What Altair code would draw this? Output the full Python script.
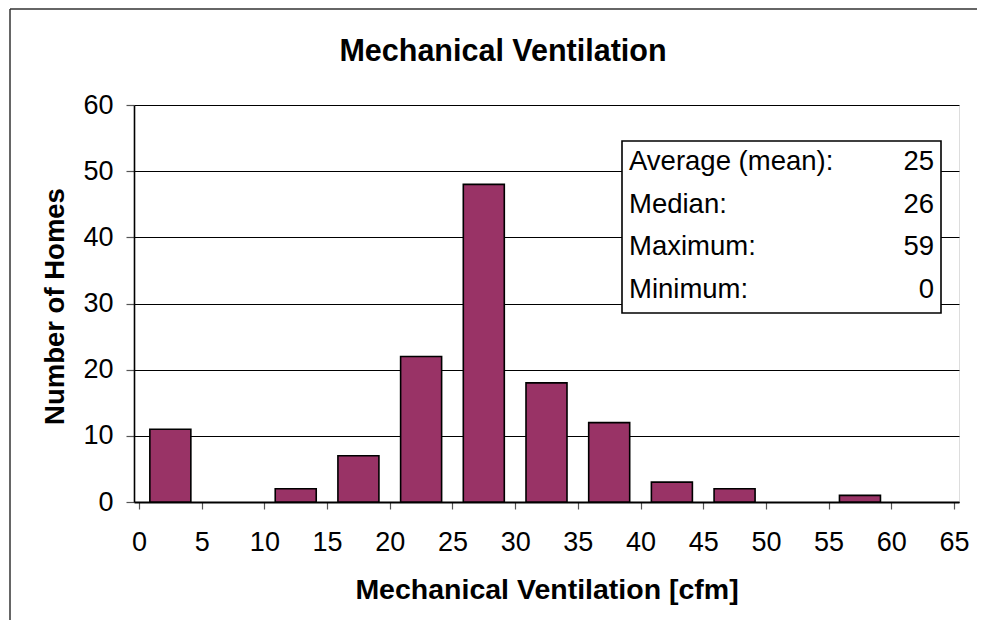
import altair as alt
import pandas as pd

# ---- data ----
chart_title = "Mechanical Ventilation"
bin_starts = [0, 5, 10, 15, 20, 25, 30, 35, 40, 45, 50, 55, 60]
counts = [11, 0, 2, 7, 22, 48, 18, 12, 3, 2, 0, 1, 0]
stat_labels = ["Average (mean):", "Median:", "Maximum:", "Minimum:"]
stat_values = ["25", "26", "59", "0"]
x_ticks = list(range(0, 70, 5))
y_ticks = list(range(0, 70, 10))

FONT = "Liberation Sans"
W, H = 825, 397

bars_df = pd.DataFrame({"start": bin_starts, "count": counts})
bars_df["mid"] = bars_df["start"] + 2.5
stats_df = pd.DataFrame({"label": stat_labels, "value": stat_values,
                         "row": list(range(len(stat_labels)))})
title_df = pd.DataFrame({"t": [chart_title]})
one = pd.DataFrame({"k": [0]})

x_scale = alt.Scale(domain=[0, 65], nice=False, zero=False)
y_scale = alt.Scale(domain=[0, 60], nice=False)

bars = alt.Chart(bars_df).transform_filter("datum.count > 0").mark_bar(
    size=41, color="#993366", stroke="#000000", strokeWidth=1.6
).encode(
    x=alt.X("mid:Q", scale=x_scale,
            axis=alt.Axis(values=x_ticks, title="Mechanical Ventilation [cfm]",
                          grid=False, domainColor="#000", domainWidth=2,
                          tickColor="#555", tickSize=7, tickWidth=1.2,
                          labelFont=FONT, labelFontSize=27, labelColor="#000",
                          labelPadding=20, labelFlush=False, labelOverlap=False,
                          titleFont=FONT, titleFontSize=28.5, titleFontWeight="bold",
                          titleColor="#000", titleBaseline="alphabetic", titleY=96)),
    y=alt.Y("count:Q", scale=y_scale,
            axis=alt.Axis(values=y_ticks, title="Number of Homes",
                          grid=True, gridColor="#000", gridWidth=1,
                          domainColor="#000", domainWidth=1.6,
                          tickColor="#555", tickSize=8, tickWidth=1.2,
                          labelFont=FONT, labelFontSize=27, labelColor="#000",
                          labelPadding=13,
                          titleFont=FONT, titleFontSize=27.5, titleFontWeight="bold",
                          titleColor="#000", titleBaseline="alphabetic",
                          titleX=-71, titleY=201, titleAngle=270)),
)

box = alt.Chart(one).mark_rect(
    fill="white", stroke="#000", strokeWidth=1.6
).encode(x=alt.value(488), x2=alt.value(807), y=alt.value(36), y2=alt.value(208))

labels = alt.Chart(stats_df).transform_calculate(
    py="65 + 42.6 * datum.row"
).mark_text(
    align="left", baseline="alphabetic", font=FONT, fontSize=27.5, color="#000"
).encode(x=alt.value(495), y=alt.Y("py:Q", scale=None), text="label:N")

values = alt.Chart(stats_df).transform_calculate(
    py="65 + 42.6 * datum.row"
).mark_text(
    align="right", baseline="alphabetic", font=FONT, fontSize=27.5, color="#000"
).encode(x=alt.value(800), y=alt.Y("py:Q", scale=None), text="value:N")

title = alt.Chart(title_df).mark_text(
    align="center", baseline="alphabetic", font=FONT, fontSize=30.5,
    fontWeight="bold", color="#000"
).encode(x=alt.value(369), y=alt.value(-44), text="t:N")

frame_left = alt.Chart(one).mark_rule(color="#333", strokeWidth=1.5).encode(
    x=alt.value(-124), y=alt.value(-96), y2=alt.value(520))
frame_top = alt.Chart(one).mark_rule(color="#333", strokeWidth=1.5).encode(
    x=alt.value(-124), x2=alt.value(860), y=alt.value(-96))

chart = alt.layer(bars, box, labels, values, title, frame_left, frame_top).properties(
    width=W, height=H,
    autosize=alt.AutoSizeParams(type="none"),
    padding={"left": 126, "top": 97, "right": 18, "bottom": 118},
).configure_view(stroke="#666", strokeWidth=1.5).configure(background="white")

chart.save("out.html", embed_options={"renderer": "svg", "actions": False})
